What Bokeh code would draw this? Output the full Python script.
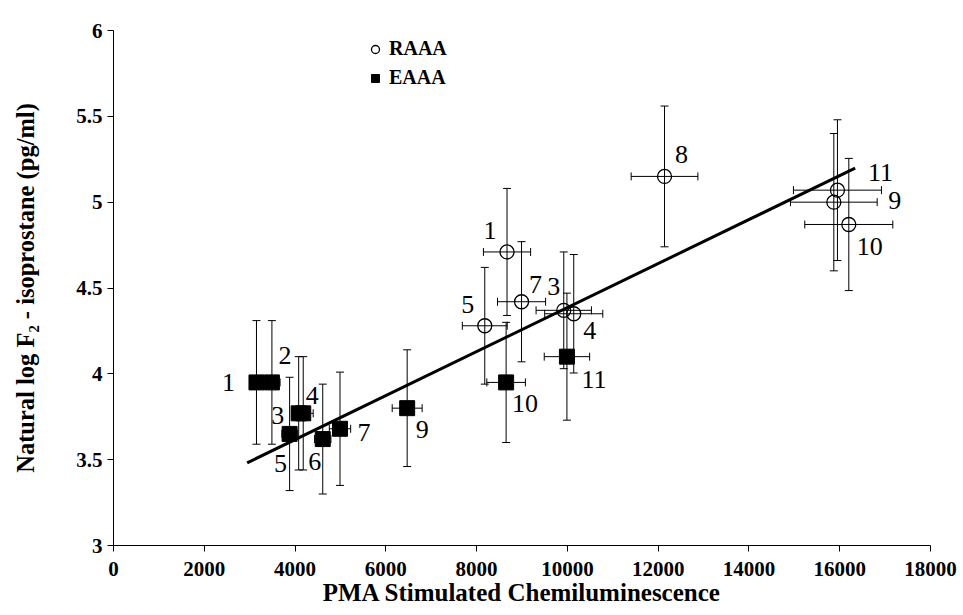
from bokeh.plotting import figure
from bokeh.models import (ColumnDataSource, Whisker, TeeHead, Range1d, FixedTicker,
                          LabelSet, Legend, LegendItem)
from bokeh.embed import file_html
from bokeh.resources import INLINE

# ---- data ----
eaaa_id = ["1", "2", "3", "4", "5", "6", "7", "9", "10", "11"]
eaaa_x = [3150, 3490, 4080, 4180, 3880, 4610, 4990, 6470, 8650, 9990]
eaaa_y = [3.95, 3.95, 3.77, 3.77, 3.65, 3.62, 3.68, 3.80, 3.95, 4.10]
eaaa_xerr = [150, 180, 150, 220, 170, 180, 235, 330, 425, 500]
eaaa_yerr = [0.36, 0.36, 0.33, 0.33, 0.33, 0.32, 0.33, 0.34, 0.35, 0.37]

raaa_id = ["1", "3", "4", "5", "7", "8", "9", "10", "11"]
raaa_x = [8670, 9920, 10140, 8180, 8990, 12140, 15870, 16200, 15950]
raaa_y = [4.71, 4.37, 4.35, 4.28, 4.42, 5.15, 5.00, 4.87, 5.07]
raaa_xerr = [520, 610, 640, 495, 530, 735, 955, 970, 970]
raaa_yerr = [0.37, 0.34, 0.345, 0.34, 0.35, 0.41, 0.40, 0.385, 0.41]

fit_slope = 0.0001282
fit_intercept = 3.104
fit_x = [2945, 16340]

x_ticks = [0, 2000, 4000, 6000, 8000, 10000, 12000, 14000, 16000, 18000]
y_ticks = [3, 3.5, 4, 4.5, 5, 5.5, 6]
y_tick_labels = ["3", "3.5", "4", "4.5", "5", "5.5", "6"]

# label offsets (screen px, right / down)
eaaa_lab_dx = [-28, 13, -21, 9, -9, -8, 24, 15, 19, 27]
eaaa_lab_dy = [0, -27, 2, -18, 30, 22, 4, 21, 21, 23]
raaa_lab_dx = [-17, -10, 16, -17, 14, 17, 61, 21, 43]
raaa_lab_dy = [-21, -24, 17, -21, -17, -22, -2, 22, -18]

SERIF = "Liberation Serif"


def make_src(ids, xs, ys, xerr, yerr, dx, dy):
    return ColumnDataSource(dict(
        id=ids, x=xs, y=ys,
        x_lo=[a - e for a, e in zip(xs, xerr)], x_hi=[a + e for a, e in zip(xs, xerr)],
        y_lo=[a - e for a, e in zip(ys, yerr)], y_hi=[a + e for a, e in zip(ys, yerr)],
        dx=dx, dy=[-v for v in dy],
    ))


src_e = make_src(eaaa_id, eaaa_x, eaaa_y, eaaa_xerr, eaaa_yerr, eaaa_lab_dx, eaaa_lab_dy)
src_r = make_src(raaa_id, raaa_x, raaa_y, raaa_xerr, raaa_yerr, raaa_lab_dx, raaa_lab_dy)

p = figure(width=963, height=615, output_backend="svg", toolbar_location=None,
           x_range=Range1d(0, 18000), y_range=Range1d(3, 6),
           min_border_left=113, min_border_right=33, min_border_top=30, min_border_bottom=70)
p.outline_line_color = None
p.xgrid.visible = False
p.ygrid.visible = False
p.background_fill_color = "white"
p.border_fill_color = "white"

for src in (src_e, src_r):
    p.add_layout(Whisker(source=src, base="x", upper="y_hi", lower="y_lo", dimension="height",
                         line_color="black", line_width=1,
                         upper_head=TeeHead(size=8, line_color="black", line_width=1),
                         lower_head=TeeHead(size=8, line_color="black", line_width=1)))
    p.add_layout(Whisker(source=src, base="y", upper="x_hi", lower="x_lo", dimension="width",
                         line_color="black", line_width=1,
                         upper_head=TeeHead(size=8, line_color="black", line_width=1),
                         lower_head=TeeHead(size=8, line_color="black", line_width=1)))

fit_y = [fit_intercept + fit_slope * v for v in fit_x]
p.line(fit_x, fit_y, line_color="black", line_width=3)

r_raaa = p.scatter("x", "y", source=src_r, marker="circle", size=14,
                   fill_color=None, line_color="black", line_width=1.3)
r_eaaa = p.scatter("x", "y", source=src_e, marker="square", size=15,
                   fill_color="black", line_color="black")

for src in (src_e, src_r):
    p.add_layout(LabelSet(x="x", y="y", text="id", source=src, x_offset="dx", y_offset="dy",
                          text_align="center", text_baseline="middle",
                          text_font=SERIF, text_font_size="26px", text_color="black"))

legend = Legend(items=[LegendItem(label="RAAA", renderers=[r_raaa]),
                       LegendItem(label="EAAA", renderers=[r_eaaa])],
                location=(252, 456), orientation="vertical",
                background_fill_alpha=0, border_line_color=None,
                label_text_font=SERIF, label_text_font_style="bold",
                label_text_color="black",
                label_text_font_size="20px", glyph_width=20, glyph_height=20,
                label_height=20, spacing=6, padding=5, label_standoff=4, margin=0)
p.add_layout(legend)

for ax in (p.xaxis[0], p.yaxis[0]):
    ax.axis_line_color = "black"
    ax.major_tick_line_color = "black"
    ax.minor_tick_line_color = None
    ax.major_tick_out = 6
    ax.major_tick_in = 0
    ax.major_label_text_font = SERIF
    ax.major_label_text_font_style = "bold"
    ax.major_label_text_font_size = "21px"
    ax.major_label_text_color = "black"
    ax.axis_label_text_font = SERIF
    ax.axis_label_text_font_style = "bold"
    ax.axis_label_text_color = "black"

p.xaxis.ticker = FixedTicker(ticks=x_ticks)
p.yaxis.ticker = FixedTicker(ticks=y_ticks)
p.yaxis.major_label_overrides = {t: s for t, s in zip(y_ticks, y_tick_labels)}
p.xaxis.axis_label = "PMA Stimulated Chemiluminescence"
p.yaxis.axis_label = "Natural log F\u2082 - isoprostane (pg/ml)"
p.xaxis.axis_label_text_font_size = "25px"
p.yaxis.axis_label_text_font_size = "24.5px"
p.xaxis.major_label_standoff = 10
p.xaxis.axis_label_standoff = 0
p.yaxis.major_label_standoff = 5
p.yaxis.axis_label_standoff = 34

open("out.html", "w").write(file_html(p, INLINE))
